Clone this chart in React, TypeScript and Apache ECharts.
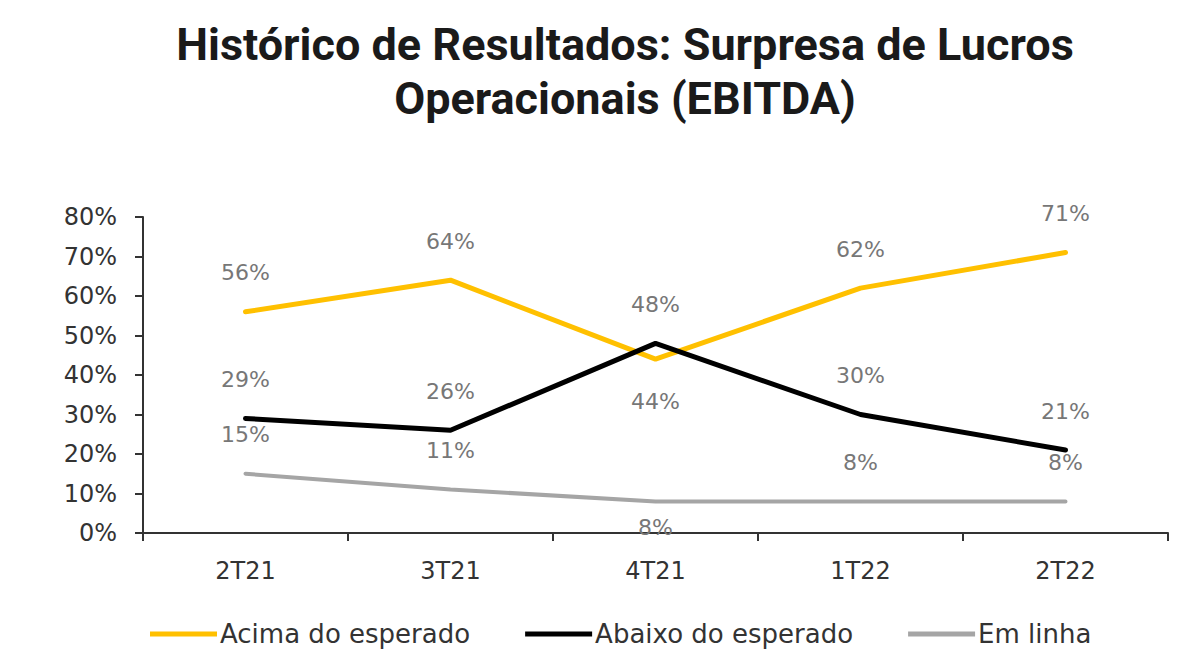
import React, { useEffect, useRef } from "react";
import * as echarts from "echarts";

const categories = ["2T21", "3T21", "4T21", "1T22", "2T22"];
const acima = [56, 64, 44, 62, 71];
const abaixo = [29, 26, 48, 30, 21];
const emLinha = [15, 11, 8, 8, 8];
const seriesNames = ["Acima do esperado", "Abaixo do esperado", "Em linha"];
const yTicks = { min: 0, max: 80, interval: 10 };

export default function App() {
  const ref = useRef<HTMLDivElement>(null);
  useEffect(() => {
    document.body.style.margin = "0";
    if (!ref.current) return;
    const chart = echarts.init(ref.current, undefined, { renderer: "svg" });
    const labelFont = "DejaVu Sans";
    const dataLabel = (pos: string, dist: number) => ({
      show: true,
      position: pos,
      distance: dist,
      formatter: "{c}%",
      color: "#777777",
      fontSize: 22,
      fontFamily: labelFont,
    });
    const mk = (vals: number[], bottomIdx: number[], bottomDist: number) =>
      vals.map((v, i) =>
        bottomIdx.includes(i) ? { value: v, label: dataLabel("bottom", bottomDist) } : v
      );
    const common = {
      type: "line",
      showSymbol: true,
      symbol: "circle",
      symbolSize: 2,
      labelLayout: { hideOverlap: false },
    };
    chart.setOption({
      animation: false,
      title: {
        text: "Histórico de Resultados: Surpresa de Lucros\nOperacionais (EBITDA)",
        left: 620,
        textAlign: "center",
        top: 12,
        textStyle: {
          fontFamily: "Roboto",
          fontWeight: "bold",
          fontSize: 45,
          lineHeight: 54,
          color: "#1a1a1a",
        },
      },
      legend: {
        left: 145,
        top: 616,
        itemWidth: 67,
        itemHeight: 5,
        itemGap: 55,
        icon: "rect",
        textStyle: { fontFamily: labelFont, fontSize: 26, color: "#333333", padding: [0, 0, 0, -2] },
        data: seriesNames,
      },
      grid: { left: 143, right: 20, top: 217, bottom: 133, containLabel: false },
      xAxis: {
        type: "category",
        data: categories,
        boundaryGap: true,
        axisLine: { lineStyle: { color: "#333333", width: 2 } },
        axisTick: { show: true, length: 8, lineStyle: { color: "#333333", width: 2 } },
        axisLabel: { fontFamily: labelFont, fontSize: 24, color: "#333333", margin: 26 },
      },
      yAxis: {
        type: "value",
        min: yTicks.min,
        max: yTicks.max,
        interval: yTicks.interval,
        splitLine: { show: false },
        axisLine: { show: true, lineStyle: { color: "#333333", width: 2 } },
        axisTick: { show: true, length: 8, lineStyle: { color: "#333333", width: 2 } },
        axisLabel: { fontFamily: labelFont, fontSize: 24, color: "#333333", margin: 26, formatter: "{value}%" },
      },
      series: [
        {
          ...common,
          name: seriesNames[0],
          data: mk(acima, [2], 30),
          lineStyle: { color: "#FFC000", width: 5, cap: "round" },
          itemStyle: { color: "#FFC000" },
          label: dataLabel("top", 27),
          z: 2,
        },
        {
          ...common,
          name: seriesNames[1],
          data: abaixo,
          lineStyle: { color: "#000000", width: 5, cap: "round" },
          itemStyle: { color: "#000000" },
          label: dataLabel("top", 27),
          z: 3,
        },
        {
          ...common,
          name: seriesNames[2],
          data: mk(emLinha, [2], 14),
          lineStyle: { color: "#A5A5A5", width: 4, cap: "round" },
          itemStyle: { color: "#A5A5A5" },
          label: dataLabel("top", 27),
          z: 1,
        },
      ],
    });
    return () => chart.dispose();
  }, []);
  return <div ref={ref} style={{ width: 1188, height: 666 }} />;
}
